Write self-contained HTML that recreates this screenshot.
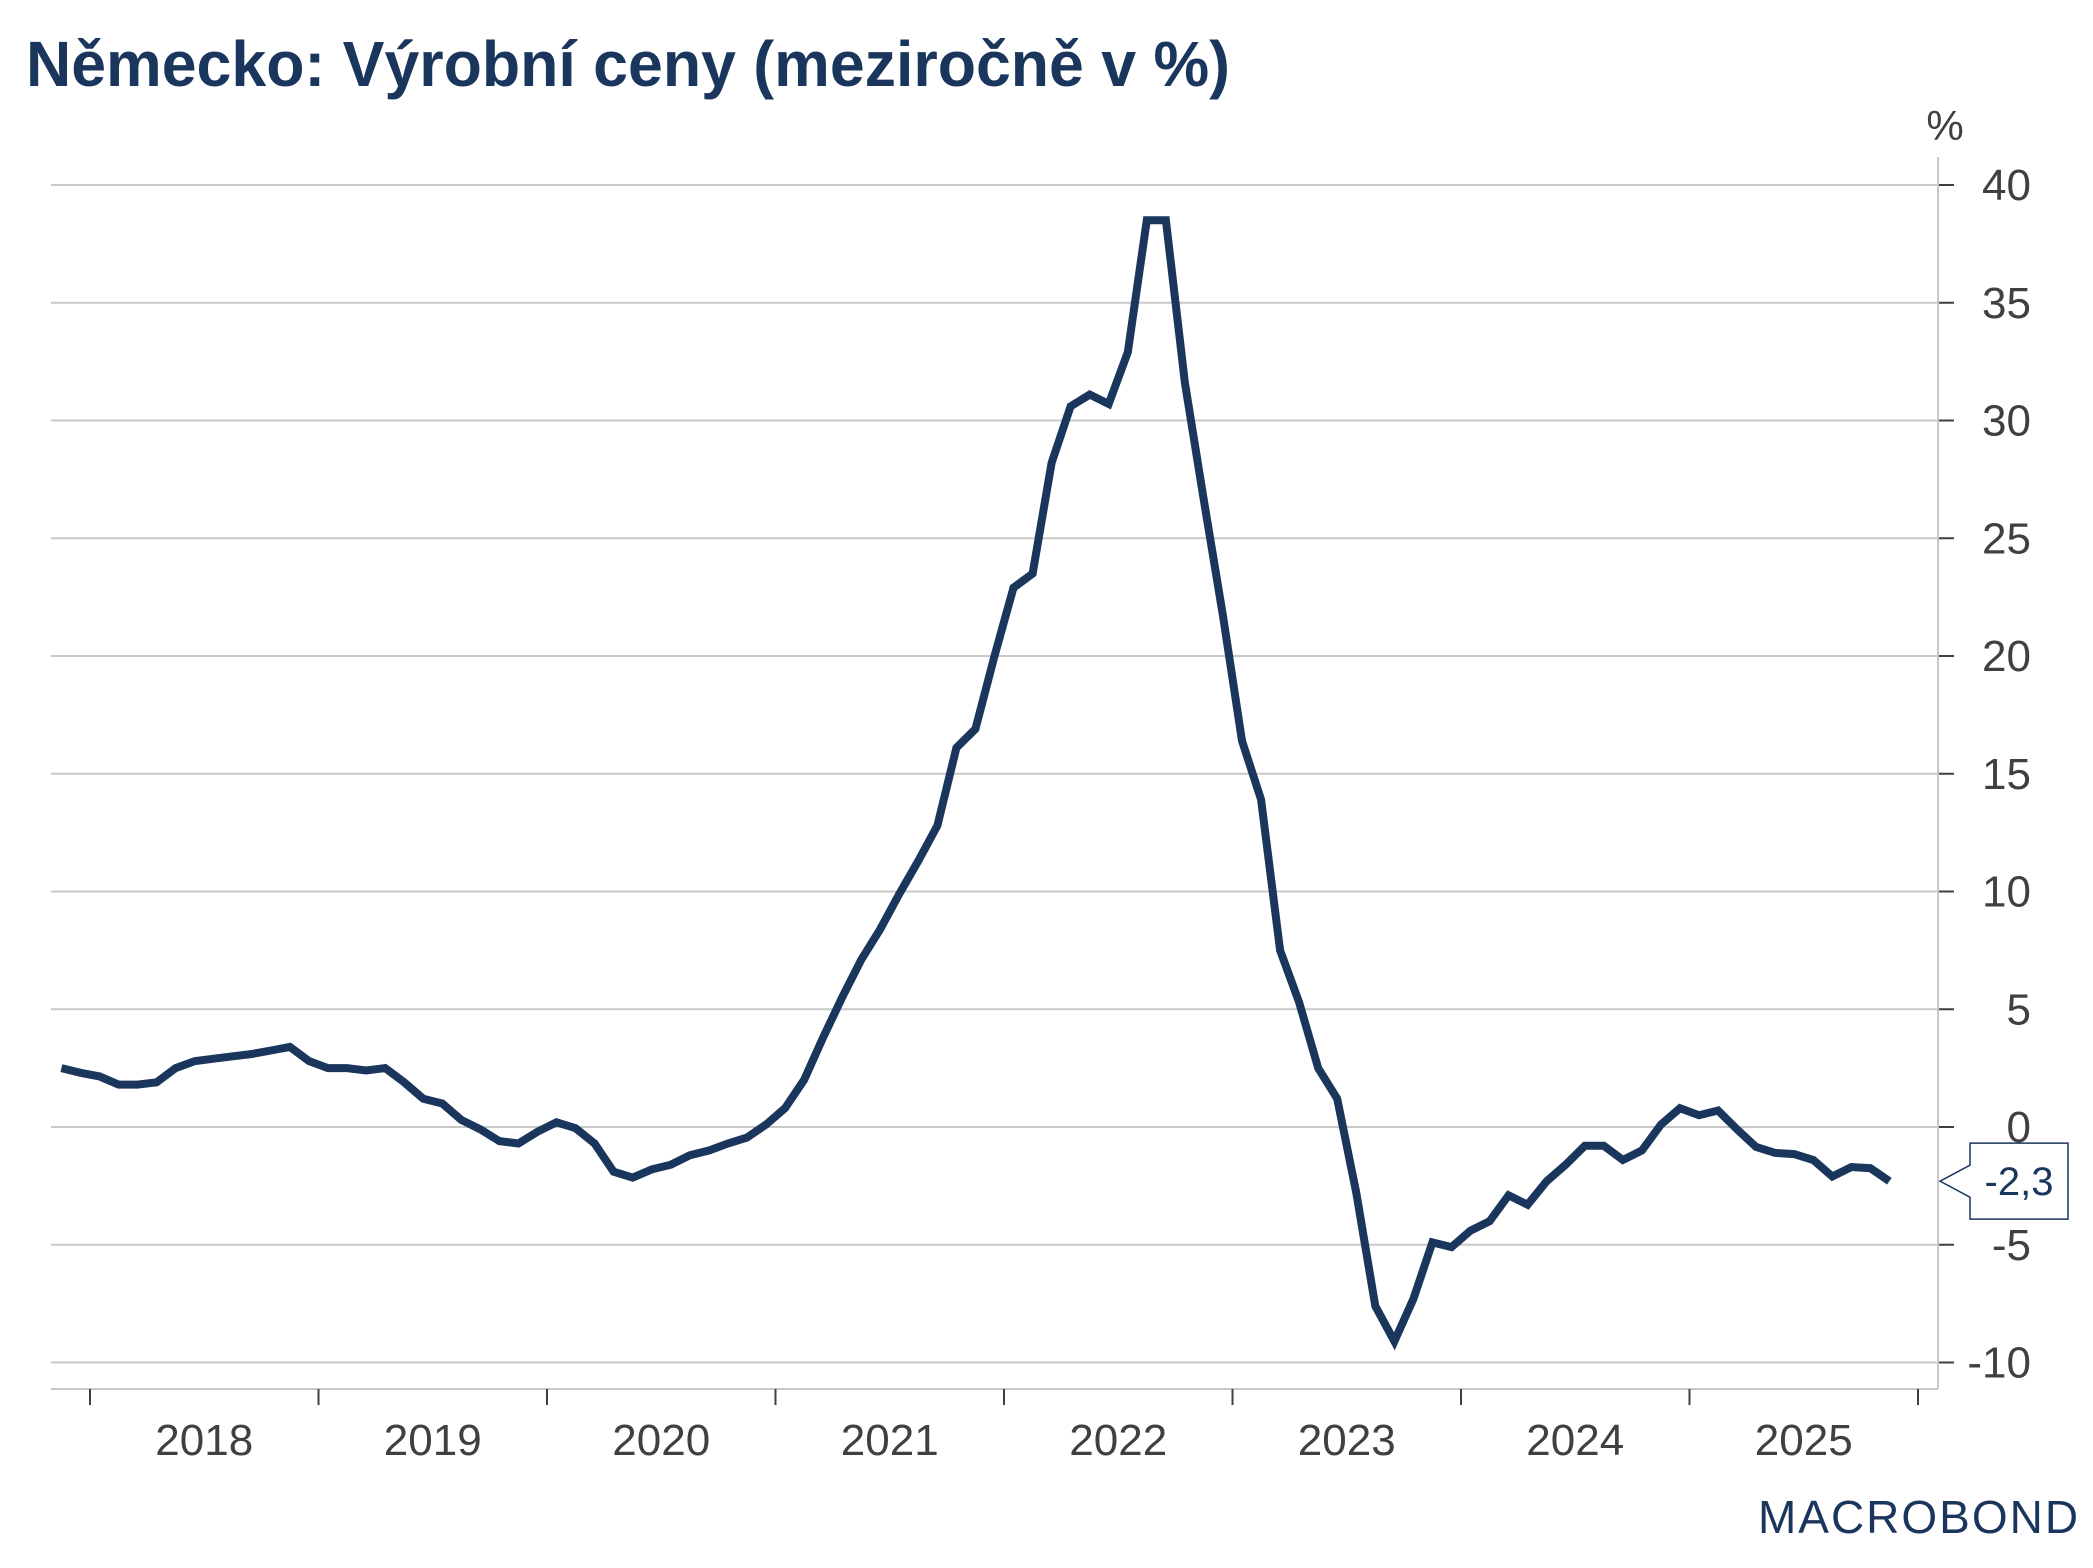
<!DOCTYPE html>
<html><head><meta charset="utf-8"><style>
body{margin:0;background:#fff;}
svg{display:block;font-family:"Liberation Sans",sans-serif;}
</style></head><body>
<svg width="2093" height="1568" viewBox="0 0 2093 1568">
<text x="26" y="86" font-size="64" font-weight="bold" fill="#1b365d" textLength="1204" lengthAdjust="spacingAndGlyphs">Německo: Výrobní ceny (meziročně v %)</text>
<text x="1945" y="140" font-size="42" fill="#404040" text-anchor="middle">%</text>
<g id="grid"></g>
<g id="xaxis"></g>
<path id="series" fill="none" stroke="#1b365d" stroke-width="8" stroke-linejoin="miter"/>
<g id="label"></g>
<text x="1919" y="1533" font-size="46" fill="#1b365d" text-anchor="middle" letter-spacing="2">MACROBOND</text>
</svg>
<script>
const yTicks=[40,35,30,25,20,15,10,5,0,-5,-10];
const years=["2018","2019","2020","2021","2022","2023","2024","2025"];
const startMonth=-2; // Nov 2017 relative to Jan 2018
const values=[2.5,2.3,2.15,1.8,1.8,1.9,2.5,2.8,2.9,3.0,3.1,3.25,
3.4,2.8,2.5,2.5,2.4,2.5,1.9,1.2,1.0,0.3,
-0.1,-0.6,-0.7,-0.2,0.2,-0.05,-0.7,-1.9,-2.15,-1.8,
-1.6,-1.2,-1.0,-0.7,-0.45,0.1,0.8,2.0,3.8,5.5,
7.1,8.4,9.9,11.3,12.8,16.1,16.9,20.0,22.9,23.5,
28.2,30.6,31.1,30.7,32.9,38.5,38.5,31.6,26.6,21.7,
16.4,13.9,7.5,5.3,2.5,1.2,-2.8,-7.6,-9.1,-7.3,
-4.9,-5.1,-4.4,-4.0,-2.9,-3.3,-2.3,-1.6,-0.8,-0.8,
-1.4,-1.0,0.1,0.8,0.5,0.7,-0.1,-0.85,-1.1,-1.15,
-1.4,-2.1,-1.7,-1.75,-2.3];
const NS="http://www.w3.org/2000/svg";
const X0=90,MW=228.5/12,PL=51,PR=1938,PB=1389,PT=157;
const yS=v=>1127-v*23.55;
const xM=i=>X0+(i+0.5)*MW;
function mk(t,a,p){const e=document.createElementNS(NS,t);for(const k in a)e.setAttribute(k,a[k]);p.appendChild(e);return e;}
const g=document.getElementById('grid');
yTicks.forEach(v=>{
 const l=mk('line',{x1:PL,x2:PR,y1:yS(v),y2:yS(v),stroke:'#c8c8c8','stroke-width':2},g);
 
 
 mk('line',{x1:PR,x2:PR+16,y1:yS(v),y2:yS(v),stroke:'#404040','stroke-width':2},g);
 const t=mk('text',{x:2031,y:yS(v)+15,'font-size':44,fill:'#404040','text-anchor':'end'},g);
 t.textContent=v;
 
 
});
mk('line',{x1:PR,x2:PR,y1:PT,y2:PB,stroke:'#c8c8c8','stroke-width':2},g);
mk('line',{x1:PL,x2:PR,y1:PB,y2:PB,stroke:'#c8c8c8','stroke-width':2},g);
const xa=document.getElementById('xaxis');
for(let k=0;k<=years.length;k++){
 const x=X0+k*12*MW;
 mk('line',{x1:x,x2:x,y1:PB,y2:PB+16,stroke:'#404040','stroke-width':2},xa);
 if(k<years.length){
  const t=mk('text',{x:x+6*MW,y:1455,'font-size':44,fill:'#404040','text-anchor':'middle'},xa);
  t.textContent=years[k];
  
  
 }
}
document.getElementById('series').setAttribute('d',values.map((v,i)=>(i?'L':'M')+xM(startMonth+i).toFixed(1)+' '+yS(v).toFixed(1)).join(''));
const last=values[values.length-1],ly=yS(last),lb=document.getElementById('label');
const p=mk('path',{d:`M1940 ${ly} L1970 ${ly-16} L1970 ${ly-38} L2068 ${ly-38} L2068 ${ly+38} L1970 ${ly+38} L1970 ${ly+16} Z`,fill:'#fff',stroke:'#1b365d','stroke-width':1.5},lb);


const lt=mk('text',{x:2019,y:ly+14,'font-size':40,fill:'#1b365d','text-anchor':'middle'},lb);
lt.textContent=last.toFixed(1).replace('.',',');


</script>
</body></html>
